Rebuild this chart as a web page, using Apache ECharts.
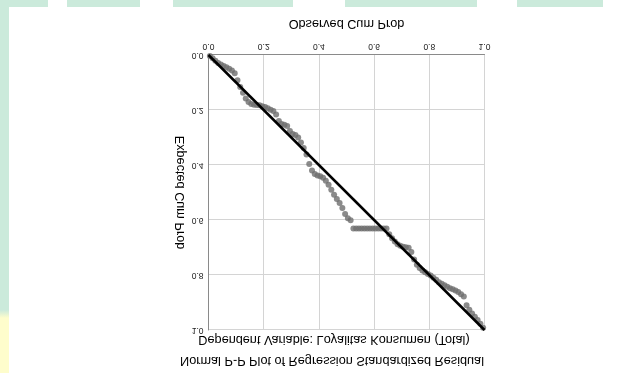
<!DOCTYPE html>
<html>
<head>
<meta charset="utf-8">
<script src="https://cdn.jsdelivr.net/npm/echarts@6/dist/echarts.min.js"></script>
<style>
  html, body { margin: 0; padding: 0; }
  body {
    width: 629px; height: 373px; position: relative; overflow: hidden;
    background: #ffffff;
  }
  /* decorative page frame: band across the top, strip down the left */
  #band {
    position: absolute; left: 0; top: 0; width: 629px; height: 7px;
    background: linear-gradient(to right,
      #cbeadb 0px, #cbeadb 48px, #ffffff 48px, #ffffff 67px,
      #cbeadb 67px, #cbeadb 140px, #ffffff 140px, #ffffff 173px,
      #cbeadb 173px, #cbeadb 293px, #ffffff 293px, #ffffff 345px,
      #cbeadb 345px, #cbeadb 477px, #ffffff 477px, #ffffff 517px,
      #cbeadb 517px, #cbeadb 603px, #ffffff 603px, #ffffff 629px);
  }
  #strip {
    position: absolute; left: 0; top: 0; width: 9px; height: 373px;
    background: linear-gradient(to bottom, #cbeadb 0px, #cbeadb 310px, #fefdcc 318px, #fefdcc 373px);
  }
  #chart {
    position: absolute; left: 9px; top: 7px; width: 620px; height: 366px;
    background: #ffffff;
    transform: scaleY(-1);
  }
</style>
</head>
<body>
<div id="band"></div>
<div id="strip"></div>
<div id="chart"></div>
<script>
// Normal P-P plot of regression standardized residuals
const titleText = 'Normal P-P Plot of Regression Standardized Residual';
const subtitleText = 'Dependent Variable: Loyalitas Konsumen (Total)';
const xAxisName = 'Observed Cum Prob';
const yAxisName = 'Expected Cum Prob';

const axisTicks = [0.0, 0.2, 0.4, 0.6, 0.8, 1.0];

const observedCumProb = [
  0.005, 0.015, 0.025, 0.035, 0.045, 0.055, 0.065, 0.075, 0.085, 0.095,
  0.105, 0.115, 0.125, 0.135, 0.145, 0.155, 0.165, 0.175, 0.185, 0.195,
  0.205, 0.215, 0.225, 0.235, 0.245, 0.255, 0.265, 0.275, 0.285, 0.295,
  0.305, 0.315, 0.325, 0.335, 0.345, 0.355, 0.365, 0.375, 0.385, 0.395,
  0.405, 0.415, 0.425, 0.435, 0.445, 0.455, 0.465, 0.475, 0.485, 0.495,
  0.505, 0.515, 0.525, 0.535, 0.545, 0.555, 0.565, 0.575, 0.585, 0.595,
  0.605, 0.615, 0.625, 0.635, 0.645, 0.655, 0.665, 0.675, 0.685, 0.695,
  0.705, 0.715, 0.725, 0.735, 0.745, 0.755, 0.765, 0.775, 0.785, 0.795,
  0.805, 0.815, 0.825, 0.835, 0.845, 0.855, 0.865, 0.875, 0.885, 0.895,
  0.905, 0.915, 0.925, 0.935, 0.945, 0.955, 0.965, 0.975, 0.985, 0.995
];

const expectedCumProb = [
  0.004, 0.012, 0.021, 0.029, 0.035, 0.040, 0.045, 0.050, 0.056, 0.066,
  0.092, 0.116, 0.137, 0.158, 0.171, 0.178, 0.181, 0.182, 0.183, 0.186,
  0.189, 0.194, 0.199, 0.204, 0.216, 0.240, 0.251, 0.254, 0.258, 0.276,
  0.287, 0.291, 0.300, 0.318, 0.338, 0.362, 0.396, 0.420, 0.433, 0.438,
  0.441, 0.446, 0.457, 0.472, 0.490, 0.508, 0.524, 0.538, 0.556, 0.578,
  0.594, 0.601, 0.631, 0.631, 0.631, 0.631, 0.631, 0.631, 0.631, 0.631,
  0.631, 0.631, 0.631, 0.631, 0.631, 0.652, 0.666, 0.678, 0.688, 0.694,
  0.697, 0.699, 0.701, 0.716, 0.744, 0.763, 0.775, 0.784, 0.790, 0.796,
  0.802, 0.810, 0.817, 0.826, 0.832, 0.837, 0.843, 0.848, 0.852, 0.856,
  0.862, 0.870, 0.878, 0.910, 0.926, 0.940, 0.952, 0.964, 0.977, 0.992
];

// reference diagonal of a perfectly normal residual distribution
const diagonal = [[0, 0], [1, 1]];

const points = observedCumProb.map((x, i) => [x, expectedCumProb[i]]);
const FONT = '"Liberation Sans", Arial, sans-serif';

const chart = echarts.init(document.getElementById('chart'), null, { renderer: 'canvas' });

const axisCommon = {
  type: 'value',
  min: axisTicks[0],
  max: axisTicks[axisTicks.length - 1],
  interval: axisTicks[1] - axisTicks[0],
  nameLocation: 'middle',
  nameTextStyle: { fontFamily: FONT, fontSize: 12.7, color: '#000' },
  axisLine: { show: true, lineStyle: { color: '#8a8a8a', width: 1 } },
  axisTick: { show: false },
  axisLabel: {
    fontFamily: FONT, fontSize: 8.5, color: '#222',
    formatter: v => v.toFixed(1)
  },
  splitLine: { show: true, lineStyle: { color: '#d4d4d4', width: 1 } }
};

chart.setOption({
  backgroundColor: '#ffffff',
  animation: false,
  grid: { left: 199.5, top: 43, width: 276, height: 275, containLabel: false },
  xAxis: Object.assign({}, axisCommon, {
    name: xAxisName, nameGap: 25,
    axisLabel: Object.assign({}, axisCommon.axisLabel, { margin: 4 })
  }),
  yAxis: Object.assign({}, axisCommon, {
    name: yAxisName, nameGap: 22,
    axisLabel: Object.assign({}, axisCommon.axisLabel, { margin: 5 })
  }),
  graphic: [
    {
      type: 'text', x: 323, y: 12,
      style: {
        text: titleText, font: '12.7px ' + FONT, fill: '#000',
        align: 'center', verticalAlign: 'middle'
      }
    },
    {
      type: 'text', x: 325, y: 33,
      style: {
        text: subtitleText, font: '12.7px ' + FONT, fill: '#000',
        align: 'center', verticalAlign: 'middle'
      }
    }
  ],
  series: [
    {
      type: 'scatter',
      data: points,
      symbol: 'circle',
      symbolSize: 6,
      itemStyle: { color: '#6e6e6e' },
      z: 2
    },
    {
      type: 'line',
      data: diagonal,
      showSymbol: false,
      lineStyle: { color: '#000', width: 2.5 },
      z: 3
    }
  ]
});
</script>
</body>
</html>
